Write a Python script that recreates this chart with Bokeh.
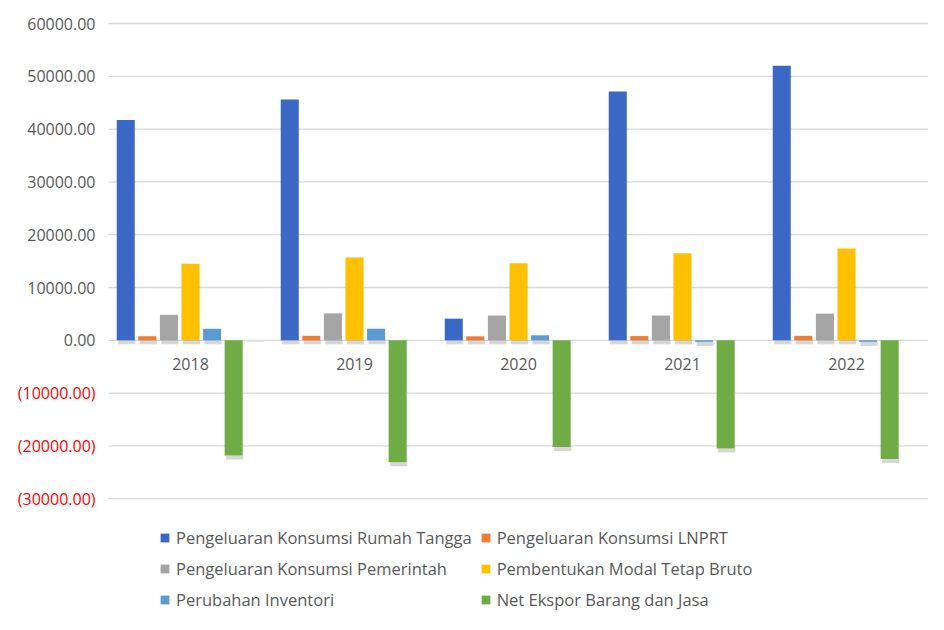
from bokeh.plotting import figure
from bokeh.models import Range1d, Legend, LegendItem
from bokeh.core.properties import value
from bokeh.embed import file_html
from bokeh.resources import INLINE

# ---- data ----
years = ["2018", "2019", "2020", "2021", "2022"]
rumah_tangga = [41700, 45600, 4100, 47100, 52000]
lnprt = [750, 850, 750, 800, 850]
pemerintah = [4850, 5100, 4700, 4700, 5050]
pmtb = [14500, 15700, 14600, 16500, 17400]
inventori = [2200, 2200, 950, -300, -300]
net_ekspor = [-21800, -23100, -20200, -20500, -22500]
lainnya = [-300, 0, 0, 0, 0]

series_names = [
    "Pengeluaran Konsumsi Rumah Tangga",
    "Pengeluaran Konsumsi LNPRT",
    "Pengeluaran Konsumsi Pemerintah",
    "Pembentukan Modal Tetap Bruto",
    "Perubahan Inventori",
    "Net Ekspor Barang dan Jasa",
    "",
]
series_values = [rumah_tangga, lnprt, pemerintah, pmtb, inventori, net_ekspor, lainnya]
colors = ["#3B68C4", "#ED7D31", "#A5A5A5", "#FFC000", "#5B9BD5", "#6FAC46", "#E4E4E4"]

y_ticks = [60000, 50000, 40000, 30000, 20000, 10000, 0, -10000, -20000, -30000]
y_tick_labels = ["60000.00", "50000.00", "40000.00", "30000.00", "20000.00",
                 "10000.00", "0.00", "(10000.00)", "(20000.00)", "(30000.00)"]

FONT = "Open Sans"
GREY_TXT = "#595959"

W, H = 928, 614
PX_PER_CAT = 164.0          # pixels per year group
PX_PER_UNIT = 52.8 / 10000  # pixels per value unit
LEFT_PX = 108               # where the plot area starts
TOP_PX = 23                 # where 60000 sits

x_start = -LEFT_PX / PX_PER_CAT
x_end = x_start + W / PX_PER_CAT
y_end = 60000 + TOP_PX / PX_PER_UNIT
y_start = y_end - H / PX_PER_UNIT

p = figure(width=W, height=H,
           x_range=Range1d(x_start, x_end), y_range=Range1d(y_start, y_end),
           output_backend="svg", toolbar_location=None,
           min_border=0)
p.axis.visible = False
p.grid.visible = False
p.outline_line_color = None

n = len(years)
# horizontal gridlines across the plot area
p.segment(x0=[0] * len(y_ticks), x1=[n] * len(y_ticks), y0=y_ticks, y1=y_ticks,
          line_color="#D9D9D9", line_width=1.3)

centers = [i + 0.5 for i in range(n)]
pitch = 0.1316
bw = 0.110
shadow_dy = 4 / PX_PER_UNIT
shadow_dx = 1 / PX_PER_CAT

# soft drop shadows under the bars
for i, vals in enumerate(series_values[:6]):
    xs = [c + (i - 3) * pitch + shadow_dx for c in centers]
    tops = [min(v, 0) for v in vals]
    bots = [min(v, 0) - shadow_dy for v in vals]
    p.vbar(x=xs, top=tops, bottom=bots, width=bw * 0.95,
           fill_color="#000000", fill_alpha=0.16, line_color=None)

items = []
for i, (name, vals) in enumerate(zip(series_names, series_values)):
    xs = [c + (i - 3) * pitch for c in centers]
    r = p.vbar(x=xs, top=vals, bottom=0, width=bw,
               fill_color=colors[i], line_color=None)
    if name:
        items.append(LegendItem(label=name, renderers=[r]))

# year labels just below the zero line
p.text(x=centers, y=[0] * n, text=years, text_align="center",
       text_baseline="top", y_offset=18, text_font=value(FONT),
       text_font_size="16px", text_color=GREY_TXT)

# y tick labels (negative values red and in parentheses)
tick_colors = [GREY_TXT if t >= 0 else "#FF0000" for t in y_ticks]
p.text(x=[0] * len(y_ticks), y=y_ticks, text=y_tick_labels, x_offset=-13,
       text_align="right", text_baseline="middle", text_font=value(FONT),
       text_font_size="16px", text_color=tick_colors)

legend = Legend(items=items, ncols=2, orientation="horizontal",
                location=(159, 3), border_line_color=None,
                background_fill_alpha=0, padding=0, margin=0,
                glyph_width=11, glyph_height=11, label_standoff=6,
                label_height=20, spacing=8,
                label_text_font=FONT, label_text_font_size="16.5px",
                label_text_color=GREY_TXT)
p.add_layout(legend)

open("out.html", "w").write(file_html(p, INLINE))
